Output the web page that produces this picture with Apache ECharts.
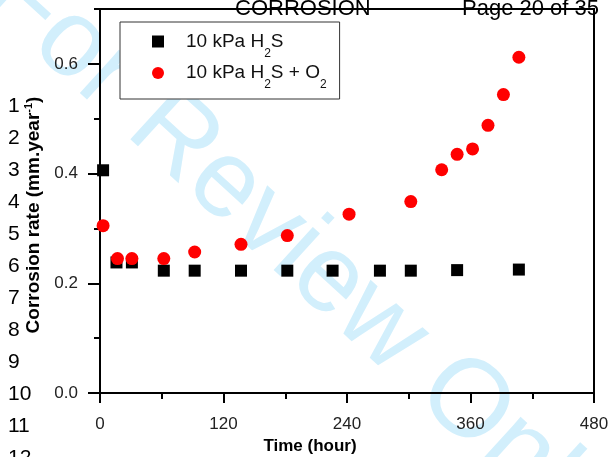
<!DOCTYPE html>
<html><head><meta charset="utf-8">
<script src="https://cdn.jsdelivr.net/npm/echarts@6/dist/echarts.min.js"></script>
<style>html,body{margin:0;padding:0;background:#fff}#c{width:612px;height:457px}</style>
</head><body><div id="c"></div>
<script>
// ---- data ----
const seriesNames = ['10 kPa H2S', '10 kPa H2S + O2'];
const legendRich = ['{g| }10 kPa H{sub|2}S', '{g| }10 kPa H{sub|2}S + O{sub|2}'];
const timeH2S = [3, 16, 31, 62, 92, 137, 182, 226, 272, 302, 347, 407];
const rateH2S = [0.406, 0.238, 0.238, 0.223, 0.223, 0.223, 0.223, 0.223, 0.223, 0.223, 0.224, 0.225];
const timeH2SO2 = [3, 17, 31, 62, 92, 137, 182, 242, 302, 332, 347, 362, 377, 392, 407];
const rateH2SO2 = [0.305, 0.245, 0.245, 0.245, 0.257, 0.271, 0.287, 0.326, 0.349, 0.407, 0.435, 0.445, 0.488, 0.544, 0.612];
const xTicks = [0, 120, 240, 360, 480];
const yTicks = [0, 0.2, 0.4, 0.6];
const yMinorTicks = [0.1, 0.3, 0.5, 0.7];
const xName = 'Time (hour)';
const yName = 'Corrosion rate (mm.year{sup|-1})';
const headerLeft = 'CORROSION';
const headerRight = 'Page 20 of 35';
const lineNumbers = ['1','2','3','4','5','6','7','8','9','10','11','12'];
const watermark = 'For Review Only';

const FONT = "'Liberation Sans', Arial, sans-serif";
const chart = echarts.init(document.getElementById('c'), null, {renderer: 'canvas'});

const graphics = [
  {type: 'text', z: -10, x: 300, y: 253, rotation: -0.74, silent: true,
   style: {text: watermark, font: '110px ' + FONT, fill: '#d2effc', textAlign: 'center', textVerticalAlign: 'middle'}},
  {type: 'text', z: 10, x: 235, y: 9, style: {text: headerLeft, font: '22px ' + FONT, fill: '#000', textAlign: 'left', textVerticalAlign: 'middle'}},
  {type: 'text', z: 10, x: 599, y: 9, style: {text: headerRight, font: '22px ' + FONT, fill: '#000', textAlign: 'right', textVerticalAlign: 'middle'}}
];
lineNumbers.forEach((t, i) => {
  graphics.push({type: 'text', z: 10, x: 8, y: 106 + 32 * i,
    style: {text: t, font: '21px ' + FONT, fill: '#000', textAlign: 'left', textVerticalAlign: 'middle'}});
});

const axisLine = {show: true, lineStyle: {color: '#000', width: 2}};
chart.setOption({
  animation: false,
  backgroundColor: '#fff',
  textStyle: {fontFamily: FONT},
  graphic: graphics,
  grid: {left: 100, right: 18, top: 9, bottom: 64, show: true, borderColor: '#000', borderWidth: 2,
    backgroundColor: 'transparent', containLabel: false, outerBoundsMode: 'none'},
  legend: {
    left: 120, top: 22, orient: 'vertical',
    backgroundColor: '#fff', borderColor: '#333', borderWidth: 1,
    padding: [10, 13, 8, 32], itemGap: 4,
    itemWidth: 12, itemHeight: 12,
    data: [
      {name: seriesNames[0], icon: 'rect'},
      {name: seriesNames[1], icon: 'circle'}
    ],
    formatter: function (n) { return legendRich[seriesNames.indexOf(n)]; },
    textStyle: {fontSize: 19, color: '#111', fontFamily: FONT,
      rich: {
        g: {width: 17, fontSize: 19, fontFamily: FONT},
        sub: {fontSize: 12, padding: [24, 0, 0, 0], fontFamily: FONT, color: '#111'}
      }}
  },
  xAxis: {
    type: 'value', min: 0, max: 480, interval: 120,
    axisLine: axisLine,
    axisTick: {show: true, inside: false, length: 10, lineStyle: {color: '#000', width: 2}},
    minorTick: {show: true, splitNumber: 2, length: 6, lineStyle: {color: '#000', width: 2}},
    splitLine: {show: false}, minorSplitLine: {show: false},
    axisLabel: {fontSize: 17, color: '#222', margin: 23, fontFamily: FONT, customValues: xTicks},
    name: xName, nameLocation: 'middle', nameGap: 43,
    nameTextStyle: {fontSize: 17, fontWeight: 'bold', color: '#000', fontFamily: FONT, padding: [0, 74, 0, 0]}
  },
  yAxis: [{
    type: 'value', min: 0, max: 0.7,
    axisLine: axisLine,
    axisTick: {show: true, inside: false, length: 12, lineStyle: {color: '#000', width: 2}, customValues: yTicks},
    splitLine: {show: false},
    axisLabel: {fontSize: 17, color: '#222', margin: 22, fontFamily: FONT, customValues: yTicks,
      formatter: v => v.toFixed(1)},
    name: yName, nameLocation: 'middle', nameGap: 56,
    nameTextStyle: {fontSize: 19, fontWeight: 'bold', color: '#000', fontFamily: FONT, padding: [0, 28, 0, 0],
      rich: {sup: {fontSize: 11, fontWeight: 'bold', padding: [0, 0, 10, 0], fontFamily: FONT, color: '#000'}}}
  }, {
    type: 'value', min: 0, max: 0.7, position: 'left',
    axisLine: {show: false},
    axisTick: {show: true, inside: false, length: 6, lineStyle: {color: '#000', width: 2}, customValues: yMinorTicks},
    axisLabel: {show: false},
    splitLine: {show: false}
  }],
  series: [
    {name: seriesNames[0], type: 'scatter', symbol: 'rect', symbolSize: 12, z: 3,
     itemStyle: {color: '#000', opacity: 1},
     data: timeH2S.map((t, i) => [t, rateH2S[i]])},
    {name: seriesNames[1], type: 'scatter', symbol: 'circle', symbolSize: 13, z: 4,
     itemStyle: {color: '#ff0000', opacity: 1},
     data: timeH2SO2.map((t, i) => [t, rateH2SO2[i]])}
  ]
});
</script></body></html>
